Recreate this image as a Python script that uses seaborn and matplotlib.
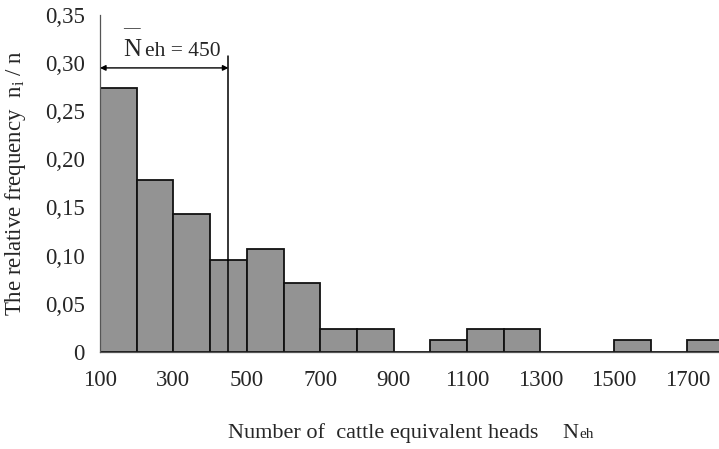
import numpy as np
import matplotlib
matplotlib.use("Agg")
import matplotlib.pyplot as plt
import seaborn as sns

# bin edges (Neh) and relative frequencies
bin_edges = [100, 200, 300, 400, 500, 600, 700, 800, 900, 1000,
             1100, 1200, 1300, 1400, 1500, 1600, 1700, 1800]
rel_freq = [0.274, 0.179, 0.143, 0.095, 0.107, 0.071, 0.024, 0.024, 0.0,
            0.012, 0.024, 0.024, 0.0, 0.0, 0.012, 0.0, 0.012]
x_ticks = [100, 300, 500, 700, 900, 1100, 1300, 1500, 1700]
y_ticks = [0, 0.05, 0.10, 0.15, 0.20, 0.25, 0.30, 0.35]
y_tick_labels = ["0", "0,05", "0,10", "0,15", "0,20", "0,25", "0,30", "0,35"]
mean_neh = 450

sns.set_style("white")
plt.rcParams["font.family"] = ["Liberation Serif", "DejaVu Serif"]
plt.rcParams["mathtext.fontset"] = "custom"
plt.rcParams["mathtext.rm"] = "Liberation Serif"
plt.rcParams["mathtext.it"] = "Liberation Serif:italic"

fig = plt.figure(figsize=(7.19, 4.49), dpi=100)
ax = fig.add_axes([100 / 719, 97.3 / 449, 624 / 719, 336.7 / 449])

centers = [(a + b) / 2 for a, b in zip(bin_edges[:-1], bin_edges[1:])]
sns.histplot(x=centers, weights=rel_freq, bins=bin_edges, stat="count",
             color="#939393", alpha=1, edgecolor="#111111", linewidth=1.3, ax=ax)

ax.set_xlim(100, 1800)
ax.set_ylim(0, 0.35)
ax.set_xticks(x_ticks)
ax.set_xticklabels([str(t) for t in x_ticks])
ax.set_xticks(bin_edges, minor=True)
ax.set_yticks(y_ticks)
ax.set_yticklabels(y_tick_labels)
ax.tick_params(axis="both", which="both", direction="out", length=5,
               width=0.9, color="#444444", labelsize=16.5, pad=6)
ax.tick_params(axis="x", which="major", pad=8)

for s in ["top", "right"]:
    ax.spines[s].set_visible(False)
for s in ["left", "bottom"]:
    ax.spines[s].set_color("#555555")
    ax.spines[s].set_linewidth(0.9)

# mean marker
ax.plot([mean_neh, mean_neh], [0, 0.307], color="black", lw=1.1)
ax.annotate("", xy=(100, 0.295), xytext=(mean_neh, 0.295),
            arrowprops=dict(arrowstyle="<|-|>", color="black", lw=1.0,
                            mutation_scale=8, shrinkA=0, shrinkB=0))
ax.text(163, 0.3075, "N", fontsize=18, ha="left", va="baseline")
ax.text(163, 0.3075, "\u2014", fontsize=12, ha="left", va="baseline",
        transform=ax.transData + matplotlib.transforms.ScaledTranslation(
            0, 24 / 100, fig.dpi_scale_trans))
ax.text(222, 0.3075, "eh = 450", fontsize=15.5, ha="left", va="baseline")

ax.set_xlabel("")
ax.set_ylabel("")
fig.text(16 / 719, 1 - 183 / 449, r"The relative frequency  n$_\mathrm{i}$ / n",
         rotation=90, fontsize=16.5, ha="center", va="center")
fig.text(228 / 719, 1 - 433 / 449, "Number of  cattle equivalent heads",
         fontsize=16, ha="left", va="center")
fig.text(562 / 719, 1 - 433 / 449, "N", fontsize=16, ha="left", va="center")
fig.text(579 / 719, 1 - 435 / 449, "eh", fontsize=11, ha="left", va="center")

fig.savefig("out.png", dpi=100)
